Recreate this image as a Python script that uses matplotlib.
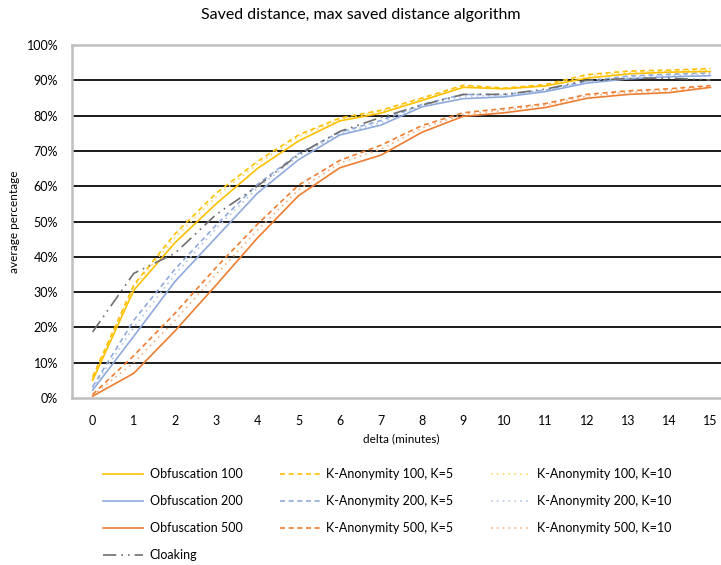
import matplotlib.pyplot as plt
from matplotlib.ticker import FuncFormatter

plt.rcParams['font.family'] = ['Lato', 'DejaVu Sans']

delta = list(range(16))

obf_100 = [5, 30.5, 44, 55, 65, 72.8, 78.5, 80.7, 84.3, 88, 87.6, 88.4, 90.6, 91.8, 92.3, 92.5]
obf_200 = [2.2, 17.5, 33, 45.5, 58, 67.5, 74.5, 77.3, 82.5, 84.8, 85.3, 86.8, 89.2, 90.4, 91, 91.3]
obf_500 = [0.5, 7, 19, 32, 45.3, 57.3, 65.2, 68.8, 75.3, 79.8, 80.8, 82.3, 84.9, 86, 86.5, 88]
ka_100_k5 = [6, 32, 46.5, 58, 67, 74.5, 79.3, 81.5, 85, 88.6, 87.8, 88.8, 91.6, 92.6, 92.9, 93.3]
ka_200_k5 = [3.2, 22, 36.5, 49, 60.5, 69.2, 75.3, 78.6, 83.2, 86, 86, 87.2, 89.8, 91.2, 91.7, 92.1]
ka_500_k5 = [1, 12, 24, 37, 49.2, 60.3, 67.3, 71.6, 77.2, 80.8, 82, 83.4, 86, 87, 87.6, 88.5]
ka_100_k10 = [5.5, 31.5, 45.5, 57, 66.3, 74, 78.8, 81.2, 84.6, 88.3, 87.5, 88.5, 91.2, 92.2, 92.6, 92.9]
ka_200_k10 = [2.8, 20, 35, 48, 59.5, 68.5, 74.8, 78, 82.8, 85.5, 85.7, 87, 89.5, 90.8, 91.3, 91.7]
ka_500_k10 = [0.7, 10, 22, 35, 47.5, 59, 66.5, 70.5, 76.5, 80.3, 81.5, 83, 85.5, 86.6, 87.1, 88.2]
cloaking = [18.7, 35.3, 41, 52, 60, 69, 75.5, 79.5, 83, 86, 86, 87.5, 90, 90.5, 90.6, 90.1]

yellow = '#FFC000'
blue = '#8FAADC'
orange = '#ED7D31'
yellow_light = '#FFD966'
blue_light = '#B4C7E7'
orange_light = '#F4B183'
gray = '#6F6F6F'

fig = plt.figure(figsize=(7.21, 5.65), dpi=100)
ax = fig.add_axes([72 / 721, 167 / 565, 659 / 721, 353 / 565])

lw = 1.2
dash = (0, (3, 2.2))
dot = (0, (1, 2.5))
ax.plot(delta, ka_100_k10, color=yellow_light, lw=lw, ls=dot, label='K-Anonymity 100, K=10')
ax.plot(delta, ka_200_k10, color=blue_light, lw=lw, ls=dot, label='K-Anonymity 200, K=10')
ax.plot(delta, ka_500_k10, color=orange_light, lw=lw, ls=dot, label='K-Anonymity 500, K=10')
ax.plot(delta, ka_100_k5, color=yellow, lw=lw, ls=dash, label='K-Anonymity 100, K=5')
ax.plot(delta, ka_200_k5, color=blue, lw=lw, ls=dash, label='K-Anonymity 200, K=5')
ax.plot(delta, ka_500_k5, color=orange, lw=lw, ls=dash, label='K-Anonymity 500, K=5')
ax.plot(delta, obf_100, color=yellow, lw=lw, label='Obfuscation 100')
ax.plot(delta, obf_200, color=blue, lw=lw, label='Obfuscation 200')
ax.plot(delta, obf_500, color=orange, lw=lw, label='Obfuscation 500')
ax.plot(delta, cloaking, color=gray, lw=lw, ls=(0, (8, 3, 1, 3, 1, 3)), label='Cloaking')

ax.set_xlim(-0.5, 15.5)
ax.set_ylim(0, 100)
ax.set_xticks(delta)
ax.set_yticks(range(0, 101, 10))
ax.yaxis.set_major_formatter(FuncFormatter(lambda v, p: f'{v:.0f}%'))
ax.tick_params(length=0, labelsize=9, colors='black')
ax.tick_params(axis='y', pad=10)
ax.tick_params(axis='x', pad=12)
for y in range(10, 100, 10):
    ax.axhline(y, color='#1A1A1A', lw=1.4, zorder=0)
for s in ['left', 'bottom', 'top']:
    ax.spines[s].set_color('#BFBFBF')
    ax.spines[s].set_linewidth(1.8)
ax.spines['right'].set_visible(False)

ax.set_xlabel('delta (minutes)', fontsize=8.5, labelpad=5)
ax.set_ylabel('average percentage', fontsize=8.5, labelpad=5)
fig.text(0.5, 1 - 15 / 565, 'Saved distance, max saved distance algorithm', ha='center', va='center', fontsize=11.5)

handles, labels = ax.get_legend_handles_labels()
order = ['Obfuscation 100', 'Obfuscation 200', 'Obfuscation 500', 'Cloaking',
         'K-Anonymity 100, K=5', 'K-Anonymity 200, K=5', 'K-Anonymity 500, K=5',
         'K-Anonymity 100, K=10', 'K-Anonymity 200, K=10', 'K-Anonymity 500, K=10']
hmap = dict(zip(labels, handles))
fig.legend([hmap[l] for l in order], order, ncol=3, loc='upper left',
           bbox_to_anchor=(92 / 721, 1 - 457 / 565), frameon=False, fontsize=9,
           handlelength=3.2, handletextpad=0.5, columnspacing=3.0, labelspacing=1.2)

fig.savefig('out.png', dpi=100)
